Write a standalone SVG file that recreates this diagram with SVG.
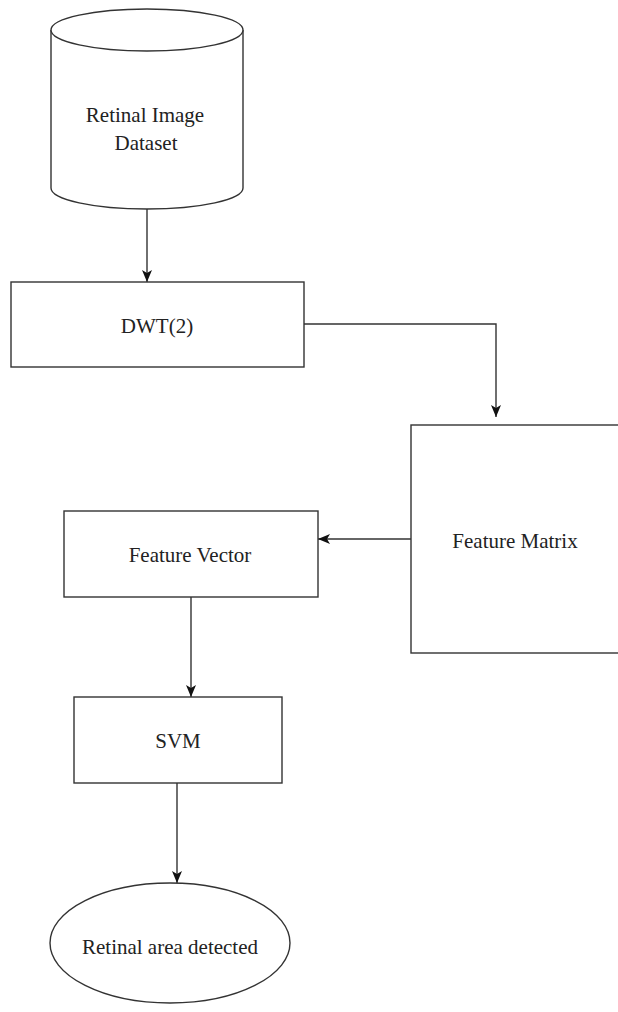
<svg xmlns="http://www.w3.org/2000/svg" width="618" height="1012" viewBox="0 0 618 1012">
  <style>
    .shape { fill: #ffffff; stroke: #333333; stroke-width: 1.4; }
    .edge { fill: none; stroke: #333333; stroke-width: 1.4; }
    .label { font-family: "Liberation Serif", "Times New Roman", serif; font-size: 21px; fill: #222222; text-anchor: middle; }
  </style>
  <defs>
    <marker id="arrow" viewBox="0 0 12 10" refX="12" refY="5" markerWidth="12" markerHeight="10" markerUnits="userSpaceOnUse" orient="auto">
      <path d="M0,0 L12,5 L0,10 L3,5 Z" fill="#111111"/>
    </marker>
  </defs>

  <rect width="618" height="1012" fill="#ffffff"/>

  <!-- connectors -->
  <g id="connectors">
    <path class="edge" d="M147,209 L147,282" marker-end="url(#arrow)"/>
    <path class="edge" d="M304,324 L496,324 L496,417" marker-end="url(#arrow)"/>
    <path class="edge" d="M411,539 L318,539" marker-end="url(#arrow)"/>
    <path class="edge" d="M191,597 L191,697" marker-end="url(#arrow)"/>
    <path class="edge" d="M177,783 L177,883" marker-end="url(#arrow)"/>
  </g>

  <!-- data store -->
  <g id="dataset">
    <path class="shape" d="M51,30 L51,188 A96,21 0 0 0 243,188 L243,30"/>
    <path class="shape" d="M51,30 A96,21 0 0 1 243,30 A96,21 0 0 1 51,30 Z"/>
    <text class="label" x="145" y="122">Retinal Image</text>
    <text class="label" x="146" y="150">Dataset</text>
  </g>

  <g id="dwt">
    <rect class="shape" x="11" y="282" width="293" height="85"/>
    <text class="label" x="157" y="333">DWT(2)</text>
  </g>

  <g id="feature-matrix">
    <rect class="shape" x="411" y="425" width="212" height="228"/>
    <text class="label" x="515" y="548">Feature Matrix</text>
  </g>

  <g id="feature-vector">
    <rect class="shape" x="64" y="511" width="254" height="86"/>
    <text class="label" x="190" y="562">Feature Vector</text>
  </g>

  <g id="svm">
    <rect class="shape" x="74" y="697" width="208" height="86"/>
    <text class="label" x="178" y="748">SVM</text>
  </g>

  <g id="result">
    <ellipse class="shape" cx="170" cy="943" rx="120" ry="60"/>
    <text class="label" x="170" y="954">Retinal area detected</text>
  </g>
</svg>
